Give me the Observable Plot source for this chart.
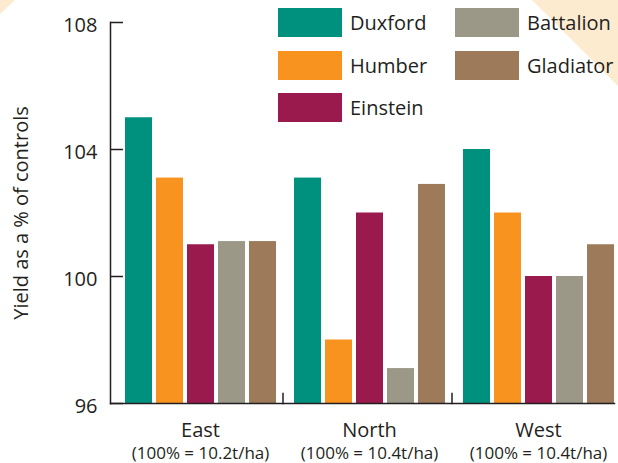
<!DOCTYPE html>
<html><head><meta charset="utf-8">
<script src="https://cdn.jsdelivr.net/npm/d3@7"></script>
<script src="https://cdn.jsdelivr.net/npm/@observablehq/plot@0.6"></script>
<style>
html,body{margin:0;padding:0;background:#fff;}
#wrap{position:relative;width:618px;height:463px;overflow:hidden;font-family:"Open Sans",sans-serif;color:#231f20;}
.tri{position:absolute;background:#fdebd0;}
#triR{left:532px;top:0;width:86px;height:86px;clip-path:polygon(0 0,100% 0,100% 100%);}
#triL{left:0;top:0;width:15px;height:14px;clip-path:polygon(0 0,100% 0,0 100%);}
#chart{position:absolute;left:0;top:0;}
#legend{position:absolute;left:0;top:0;}
.item{position:absolute;display:flex;align-items:center;font-size:20px;line-height:29px;white-space:nowrap;}
.sw{width:64px;height:29px;margin-right:8px;}
</style></head>
<body><div id="wrap"><div class="tri" id="triR"></div><div class="tri" id="triL"></div><div id="chart"></div><div id="legend"></div></div>
<script>
const regions = ["East", "North", "West"];
const regionNotes = ["(100% = 10.2t/ha)", "(100% = 10.4t/ha)", "(100% = 10.4t/ha)"];
const varieties = ["Duxford", "Humber", "Einstein", "Battalion", "Gladiator"];
const colors = ["#00917e", "#f7931e", "#9b1a4d", "#9b9888", "#9c7a5a"];
const east = [105.0, 103.1, 101.0, 101.1, 101.1];
const north = [103.1, 98.0, 102.0, 97.1, 102.9];
const west = [104.0, 102.0, 100.0, 100.0, 101.0];
const yTicks = [96, 100, 104, 108];
const yLabel = "Yield as a % of controls";

const values = [east, north, west];
const data = regions.flatMap((r, i) => varieties.map((v, j) => ({region: r, variety: v, value: values[i][j]})));
const ink = "#231f20";

const chart = Plot.plot({
  width: 618, height: 463,
  marginLeft: 110, marginRight: 2, marginTop: 22, marginBottom: 60,
  style: {fontFamily: "Open Sans", background: "transparent", color: ink, overflow: "visible"},
  fx: {domain: regions, paddingInner: 0.015, paddingOuter: 0, align: 0},
  x: {domain: varieties, paddingInner: 0.13, paddingOuter: 0.209, align: 1, axis: null},
  y: {domain: [yTicks[0], yTicks[yTicks.length - 1]]},
  color: {domain: varieties, range: colors},
  marks: [
    Plot.axisY(yTicks, {anchor: "left", tickSize: -13, tickFormat: () => "", label: null, strokeWidth: 1.5, stroke: ink}),
    Plot.barY(data, {fx: "region", x: "variety", y1: yTicks[0], y2: "value", fill: "variety"}),
    Plot.frame({anchor: "bottom", facet: "super", stroke: ink, strokeWidth: 1.5}),
    Plot.frame({anchor: "left", facet: "super", stroke: ink, strokeWidth: 1.5}),
    Plot.frame({anchor: "right", dx: 6.5, insetTop: 371, stroke: ink, strokeWidth: 1.5}),
    Plot.axisY(yTicks, {anchor: "left", tickSize: 0, tickPadding: 13, fontSize: 20, dy: 3, fill: ink,
      label: yLabel, labelAnchor: "center", labelOffset: 97, labelArrow: "none"}),
    Plot.axisFx({anchor: "bottom", tickSize: 0, tickPadding: 19, fontSize: 20, dx: 7, label: null, fill: ink}),
    Plot.axisFx({anchor: "bottom", tickSize: 0, tickPadding: 43, fontSize: 17, dx: 7, label: null, fill: ink,
      tickFormat: d => regionNotes[regions.indexOf(d)]})
  ]
});
document.getElementById("chart").appendChild(chart);

const legend = document.getElementById("legend");
const colLeft = [278, 455];
const rowTop = [8, 51, 93];
varieties.forEach((v, i) => {
  const col = i < 3 ? 0 : 1, row = i < 3 ? i : i - 3;
  const item = document.createElement("div");
  item.className = "item";
  item.style.left = colLeft[col] + "px";
  item.style.top = rowTop[row] + "px";
  const sw = document.createElement("div");
  sw.className = "sw";
  sw.style.background = colors[i];
  const label = document.createElement("span");
  label.textContent = v;
  item.appendChild(sw); item.appendChild(label);
  legend.appendChild(item);
});
</script>
</body></html>
